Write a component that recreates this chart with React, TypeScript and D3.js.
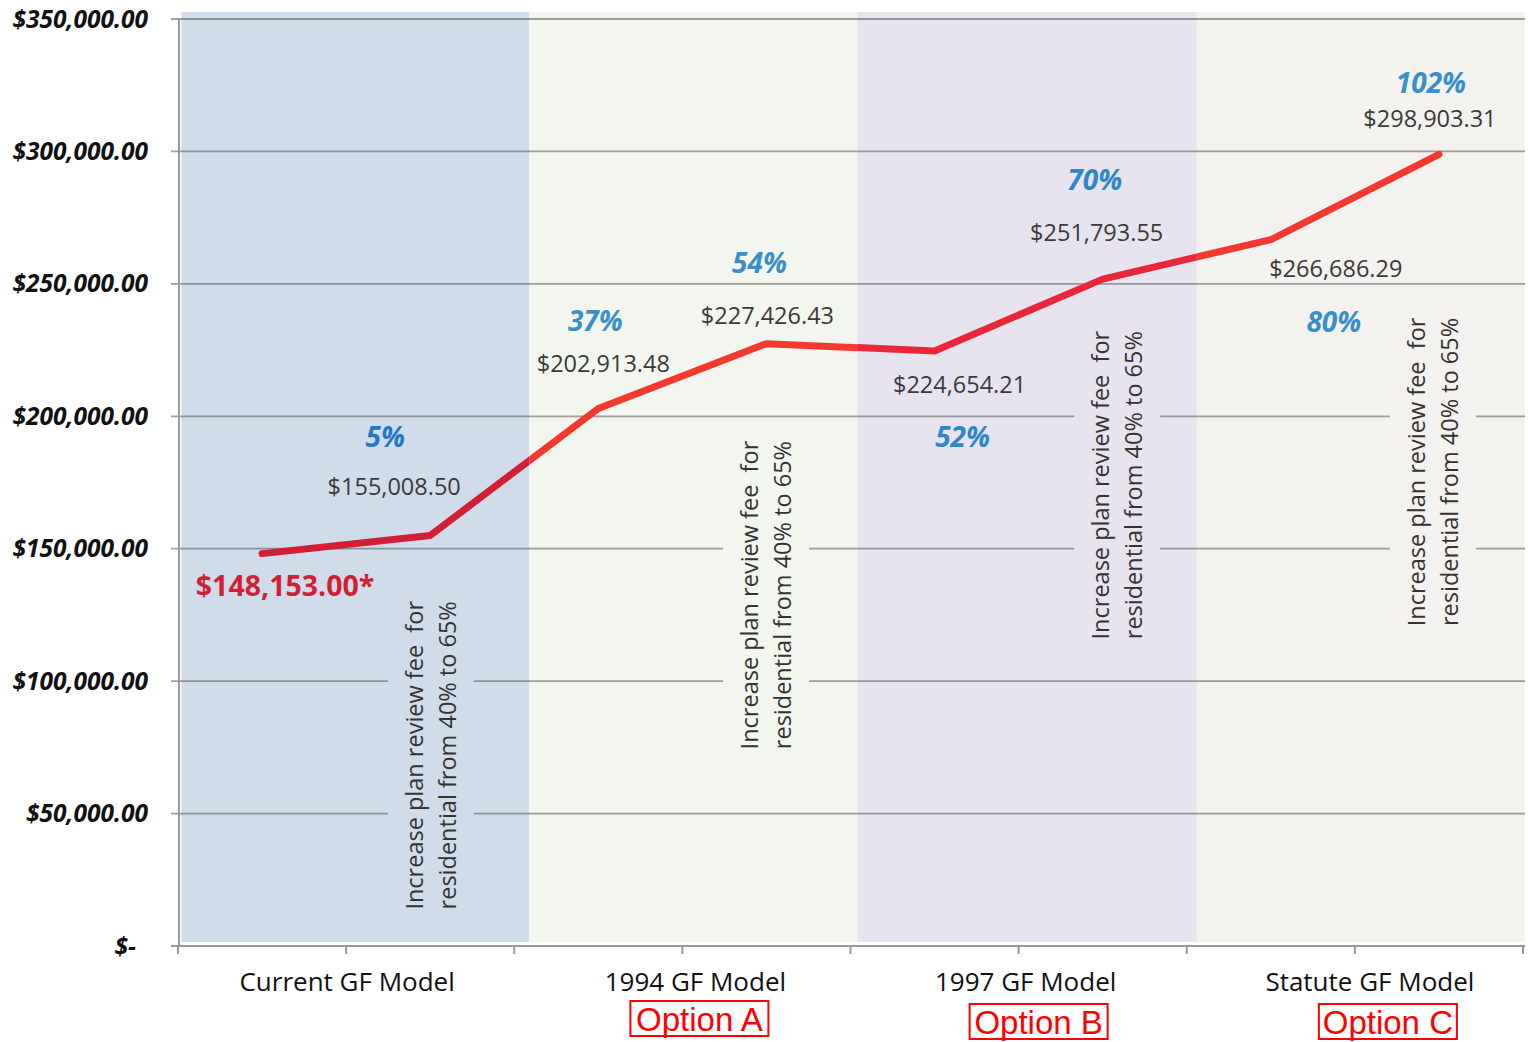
import * as d3 from "d3";

const categories = ["Current GF Model", "1994 GF Model", "1997 GF Model", "Statute GF Model"];
const optionLabels = ["", "Option A", "Option B", "Option C"];
const totals = [148153.0, 155008.5, 202913.48, 227426.43, 224654.21, 251793.55, 266686.29, 298903.31];
const pctLabels = ["", "5%", "37%", "54%", "52%", "70%", "80%", "102%"];
const yTicks = [0, 50000, 100000, 150000, 200000, 250000, 300000, 350000];
const noteLines = ["Increase plan review fee  for", "residential from 40% to 65%"];

const W = 1528;
const H = 1042;
const left = 178;
const right = 1523;
const top = 19;
const bottom = 946;

// background bands (in category units) and their colours
const bands = [
  { from: 0.01, to: 1.045, fill: "#d0dcea", line: "#d21f36", pct: "#1f78c8" },
  { from: 1.045, to: 2.02, fill: "#f3f6ee", line: "#f5392f", pct: "#3a8fc8" },
  { from: 2.02, to: 3.03, fill: "#e7e4ef", line: "#e8283a", pct: "#2f86c8" },
  { from: 3.03, to: 4.005, fill: "#f3f2ee", line: "#f4372f", pct: "#3a8fc8" },
];

// label offsets from each point (px)
const valueOffset = [[23, 32], [-36, -49], [5, -45], [1, -28], [25, 34], [-6, -46], [65, 29], [-9, -36]];
const pctOffset = [[0, 0], [-45, -98], [-3, -87], [-7, -80], [28, 86], [-8, -99], [63, 83], [-8, -71]];
// category label shifts and option box shifts (px)
const catShift = [1, 13, 7, 15];
const optShift = [0, 17, 20, 33];
// rotated note anchors: category units / value
const notes = [
  { at: 0.752, v: 72000, band: 0 },
  { at: 1.749, v: 132500, band: 1 },
  { at: 2.793, v: 174000, band: 2 },
  { at: 3.732, v: 179000, band: 3 },
];

const font = "'Open Sans', 'Noto Sans', sans-serif";

export default function App() {
  const x = d3.scaleBand<number>().domain(d3.range(totals.length)).range([left, right]);
  const xc = d3.scaleLinear().domain([0, 4]).range([left, right]);
  const y = d3.scaleLinear().domain([0, 350000]).range([bottom, top]);
  const cx = (i: number) => (x(i) ?? 0) + x.bandwidth() / 2;

  const line = d3.line<number>().x((_, i) => cx(i)).y((d) => y(d));
  const path = line(totals) ?? "";
  const money = d3.format("$,.2f");
  const yFmt = (v: number) => (v === 0 ? "$-" : money(v));
  const bandOf = (px: number) => bands.findIndex((b) => px >= xc(b.from) && px < xc(b.to));

  const tickXs = d3.range(0, 4.01, 0.5).map((d) => xc(d));

  return (
    <svg width={W} height={H} style={{ position: "absolute", left: 0, top: 0, background: "#fff" }}>
      <defs>
        {bands.map((b, i) => (
          <clipPath id={`clip${i}`} key={i}>
            <rect x={xc(b.from)} y={0} width={xc(b.to) - xc(b.from)} height={H} />
          </clipPath>
        ))}
      </defs>

      {bands.map((b, i) => (
        <rect key={i} x={xc(b.from)} y={12} width={xc(b.to) - xc(b.from)} height={bottom - 4 - 12} fill={b.fill} />
      ))}

      {/* gridlines */}
      {yTicks.filter((t) => t > 0).map((t) => (
        <line key={t} x1={left - 7} x2={right + 2} y1={y(t)} y2={y(t)} stroke="#555" strokeOpacity={0.55} strokeWidth={1.8} />
      ))}

      {/* rotated notes */}
      {notes.map((n, i) => {
        const px = xc(n.at);
        const py = y(n.v);
        return (
          <g key={i}>
            <rect x={px - 43} y={py - 168} width={86} height={336} fill={bands[n.band].fill} />
            <g transform={`translate(${px},${py}) rotate(-90)`}>
              {noteLines.map((t, j) => (
                <text key={j} x={0} y={(j - 0.5) * 33} dy="0.35em" textAnchor="middle" fontFamily={font} fontSize={23.5} fill="#333" style={{ whiteSpace: "pre" }}>
                  {t}
                </text>
              ))}
            </g>
          </g>
        );
      })}

      {/* axes */}
      <line x1={179} x2={179} y1={top} y2={bottom} stroke="#999" strokeWidth={2} />
      <line x1={left - 7} x2={right + 2} y1={bottom} y2={bottom} stroke="#999" strokeWidth={2} />
      {tickXs.map((tx, i) => (
        <line key={i} x1={tx} x2={tx} y1={bottom} y2={bottom + 8} stroke="#999" strokeWidth={2} />
      ))}

      {yTicks.map((t) => (
        <text key={t} x={t === 0 ? 136 : 148} y={y(t)} dy="0.35em" textAnchor="end" fontFamily={font} fontWeight="bold" fontStyle="italic" fontSize={24.5} fill="#111">
          {yFmt(t)}
        </text>
      ))}

      {/* line, coloured per band */}
      {bands.map((b, i) => (
        <path key={i} d={path} clipPath={`url(#clip${i})`} fill="none" stroke={b.line} strokeWidth={7} strokeLinecap="round" strokeLinejoin="round" />
      ))}

      {/* labels */}
      {totals.map((v, i) => {
        const px = cx(i);
        const py = y(v);
        const [vx, vy] = valueOffset[i];
        const [qx, qy] = pctOffset[i];
        const bi = Math.max(0, bandOf(px + qx));
        return (
          <g key={i}>
            {i === 0 ? (
              <text x={px + vx} y={py + vy} dy="0.35em" textAnchor="middle" fontFamily={font} fontWeight="bold" fontSize={28.5} fill="#d21f36">
                {money(v) + "*"}
              </text>
            ) : (
              <text x={px + vx} y={py + vy} dy="0.35em" textAnchor="middle" fontFamily={font} fontSize={23.5} fill="#3a3a3a">
                {money(v)}
              </text>
            )}
            {pctLabels[i] && (
              <text x={px + qx} y={py + qy} dy="0.35em" textAnchor="middle" fontFamily={font} fontWeight="bold" fontStyle="italic" fontSize={28} fill={bands[bi].pct}>
                {pctLabels[i]}
              </text>
            )}
          </g>
        );
      })}

      {/* category labels */}
      {categories.map((c, i) => {
        const mid = xc(i + 0.5);
        const ox = mid + optShift[i];
        const oy = i > 1 ? 1021 : 1018;
        return (
          <g key={c}>
            <text x={mid + catShift[i]} y={982} dy="0.35em" textAnchor="middle" fontFamily={font} fontSize={26} fill="#111">
              {c}
            </text>
            {optionLabels[i] && (
              <g>
                <rect x={ox - 69} y={oy - 17} width={138} height={35} fill="none" stroke="#ff0000" strokeWidth={2} />
                <text x={ox} y={oy + 1} dy="0.35em" textAnchor="middle" fontFamily="'Liberation Sans Narrow', 'Arial Narrow', 'Liberation Sans', sans-serif" fontStretch="condensed" fontSize={33} fill="#ff0000">
                  {optionLabels[i]}
                </text>
              </g>
            )}
          </g>
        );
      })}
    </svg>
  );
}
